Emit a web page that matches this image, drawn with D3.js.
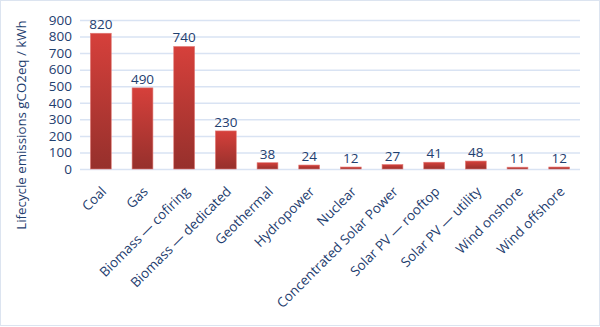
<!DOCTYPE html>
<html>
<head>
<meta charset="utf-8">
<script src="https://cdn.jsdelivr.net/npm/d3@7"></script>
<style>
body { margin: 0; background: #fff; }
svg { display: block; }
.grid line { stroke: #d9e3f3; stroke-width: 1.5; }
.grid path { display: none; }
text { font-family: "Open Sans", Lato, sans-serif; fill: #1f406f; }
</style>
</head>
<body>
<svg width="600" height="327"></svg>
<script>
// lifecycle emissions per source
const categories = ["Coal", "Gas", "Biomass — cofiring", "Biomass — dedicated",
	"Geothermal", "Hydropower", "Nuclear", "Concentrated Solar Power",
	"Solar PV — rooftop", "Solar PV — utility", "Wind onshore", "Wind offshore"]
const emissions = [820, 490, 740, 230, 38, 24, 12, 27, 41, 48, 11, 12]
const yTicks = [0, 100, 200, 300, 400, 500, 600, 700, 800, 900]
const yTitle = "Lifecycle emissions gCO2eq / kWh"

var svg = d3.select("svg"),
	margin = { top: 20, right: 20, bottom: 158, left: 80 },
	width = 600 - margin.left - margin.right,
	height = 327 - margin.top - margin.bottom,
	g = svg.append("g")
		.attr("transform", "translate(" + margin.left + "," + margin.top + ")")

// chart border
svg.append("rect")
	.attr("x", 0.5).attr("y", 0.5)
	.attr("width", 599).attr("height", 325)
	.attr("fill", "none")
	.attr("stroke", "#dce4f0")

var defs = svg.append("defs")
var grad = defs.append("linearGradient")
	.attr("id", "barGrad")
	.attr("x1", 0).attr("y1", 0).attr("x2", 0).attr("y2", 1)
grad.append("stop").attr("offset", "0%").attr("stop-color", "#d6403b")
grad.append("stop").attr("offset", "100%").attr("stop-color", "#96302c")

var x = d3.scaleBand()
	.domain(categories)
	.range([0, width])
	.paddingInner(0.5)
	.paddingOuter(0.25)

var y = d3.scaleLinear()
	.domain([0, 900])
	.range([height, 0])

// gridlines
g.append("g")
	.attr("class", "grid")
	.call(d3.axisLeft(y).tickValues(yTicks).tickSize(-width).tickFormat(""))

// y tick labels
g.append("g")
	.selectAll("text")
	.data(yTicks)
	.enter()
	.append("text")
	.attr("x", -8)
	.attr("y", function(d) { return y(d) })
	.attr("dy", "0.35em")
	.attr("text-anchor", "end")
	.attr("font-size", 13.5)
	.text(function(d) { return d })

// bars
g.selectAll(".bar")
	.data(emissions)
	.enter()
	.append("rect")
	.attr("class", "bar")
	.attr("x", function(d, i) { return x(categories[i]) })
	.attr("y", function(d) { return y(d) })
	.attr("width", x.bandwidth())
	.attr("height", function(d) { return height - y(d) })
	.attr("fill", "url(#barGrad)")
	.attr("stroke", "#e07a76")
	.attr("stroke-width", 0.6)

// value labels
g.selectAll(".val")
	.data(emissions)
	.enter()
	.append("text")
	.attr("class", "val")
	.attr("x", function(d, i) { return x(categories[i]) + x.bandwidth() / 2 })
	.attr("y", function(d) { return y(d) - 4 })
	.attr("text-anchor", "middle")
	.attr("font-size", 13.5)
	.text(function(d) { return d })

// category labels, rotated
g.selectAll(".cat")
	.data(categories)
	.enter()
	.append("text")
	.attr("class", "cat")
	.attr("text-anchor", "end")
	.attr("font-size", 13.5)
	.attr("transform", function(d) {
		var cx = x(d) + x.bandwidth() / 2 + 3
		return "translate(" + cx + "," + (height + 20) + ") rotate(-45)"
	})
	.attr("dy", "0.35em")
	.text(function(d) { return d })

// y title
svg.append("text")
	.attr("transform", "translate(21," + 125 + ") rotate(-90)")
	.attr("text-anchor", "middle")
	.attr("dy", "0.35em")
	.attr("font-size", 13.3)
	.text(yTitle)
</script>
</body>
</html>
